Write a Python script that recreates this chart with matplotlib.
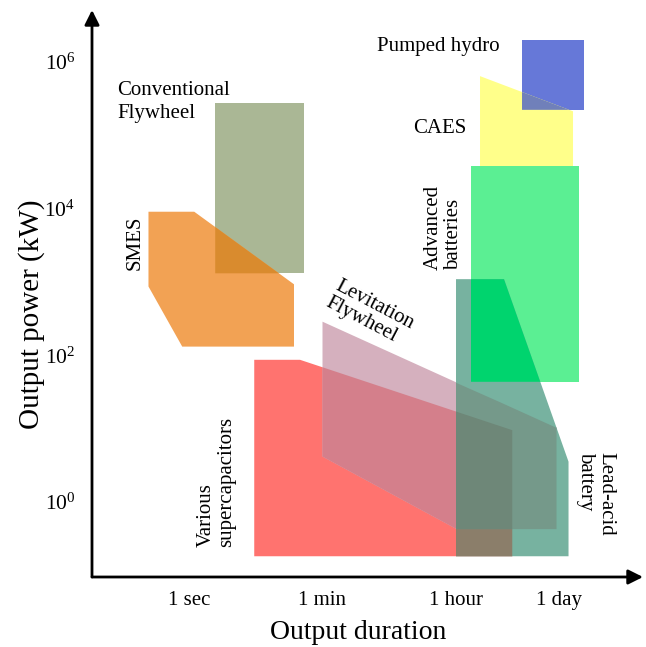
import numpy as np
import matplotlib
matplotlib.use("Agg")
import matplotlib.pyplot as plt
from matplotlib.patches import Polygon

plt.rcParams['font.family'] = ['Liberation Serif', 'DejaVu Serif']
plt.rcParams['mathtext.fontset'] = 'custom'
plt.rcParams['mathtext.rm'] = 'Liberation Serif'

# axes are in decades: x = log10(seconds), y = log10(kW)
x_ticks = [0, np.log10(60), np.log10(3600), np.log10(86400)]
x_tick_labels = ['1 sec', '1 min', '1 hour', '1 day']
y_ticks = [0, 2, 4, 6]
y_tick_labels = [r'$\mathregular{10^{%d}}$' % v for v in y_ticks]

# technology regions (polygon outlines)
phs_x = [4.44, 5.26, 5.26, 4.44]
phs_y = [6.30, 6.30, 5.35, 5.35]
caes_x = [3.88, 5.12, 5.12, 3.88]
caes_y = [5.81, 5.33, 4.58, 4.58]
adv_x = [3.76, 5.20, 5.20, 3.76]
adv_y = [4.58, 4.58, 1.64, 1.64]
flyc_x = [0.35, 1.53, 1.53, 0.35]
flyc_y = [5.44, 5.44, 3.12, 3.12]
smes_x = [-0.54, 0.07, 1.40, 1.40, -0.09, -0.54]
smes_y = [3.96, 3.96, 2.97, 2.12, 2.12, 2.94]
supc_x = [0.87, 1.48, 4.31, 4.31, 0.87]
supc_y = [1.94, 1.94, 0.98, -0.74, -0.74]
flyl_x = [1.78, 4.15, 4.90, 4.90, 3.57, 1.78]
flyl_y = [2.46, 1.36, 1.02, -0.37, -0.37, 0.62]
lead_x = [3.56, 4.20, 5.06, 5.06, 3.56]
lead_y = [3.04, 3.04, 0.55, -0.74, -0.74]


def area(poly):
    x = np.array([p[0] for p in poly])
    y = np.array([p[1] for p in poly])
    return 0.5 * np.sum(x * np.roll(y, -1) - np.roll(x, -1) * y)


def clip(subj, clipper):
    # Sutherland-Hodgman, clipper must be convex
    s = np.sign(area(clipper))
    out = list(subj)
    n = len(clipper)
    for i in range(n):
        a, b = clipper[i], clipper[(i + 1) % n]

        def inside(p):
            return s * ((b[0] - a[0]) * (p[1] - a[1]) - (b[1] - a[1]) * (p[0] - a[0])) >= 0

        def cross(p, q):
            dx1, dy1 = q[0] - p[0], q[1] - p[1]
            dx2, dy2 = b[0] - a[0], b[1] - a[1]
            t = ((a[0] - p[0]) * dy2 - (a[1] - p[1]) * dx2) / (dx1 * dy2 - dy1 * dx2)
            return (p[0] + t * dx1, p[1] + t * dy1)

        inp = out
        out = []
        for j in range(len(inp)):
            p, q = inp[j - 1], inp[j]
            if inside(q):
                if not inside(p):
                    out.append(cross(p, q))
                out.append(q)
            elif inside(p):
                out.append(cross(p, q))
        if not out:
            break
    return out


P = lambda xs, ys: list(zip(xs, ys))
phs = P(phs_x, phs_y)
caes = P(caes_x, caes_y)
adv = P(adv_x, adv_y)
flyc = P(flyc_x, flyc_y)
smes = P(smes_x, smes_y)
supc = P(supc_x, supc_y)
flyl = P(flyl_x, flyl_y)
lead = P(lead_x, lead_y)

fig = plt.figure(figsize=(6.46, 6.47), dpi=100)
ax = fig.add_axes([92 / 646, 70 / 647, 551 / 646, 567 / 647])
ax.set_xlim(-1.293, 6.053)
ax.set_ylim(-1.023, 6.712)

regions = [
    (phs, '#6678D8'), (caes, '#FFFF8A'), (adv, '#5BEF93'),
    (flyc, '#AAB795'), (smes, '#F2A254'), (supc, '#FF736F'),
    (flyl, '#D5B0BE'), (lead, '#77B2A0'),
]
for poly, col in regions:
    ax.add_patch(Polygon(poly, closed=True, facecolor=col, edgecolor='none'))

overlaps = [
    (clip(smes, flyc), '#D98B2E'),
    (clip(caes, phs), '#7080BA'),
    (clip(adv, lead), '#00D46E'),
    (clip(flyl, supc), '#D47F8B'),
    (clip(lead, supc), '#8B7E6A'),
    (clip(lead, flyl), '#75998A'),
    (clip(clip(lead, flyl), supc), '#6E8778'),
]
for poly, col in overlaps:
    if len(poly) > 2:
        ax.add_patch(Polygon(poly, closed=True, facecolor=col, edgecolor='none'))

fs = 15
ax.text(2.51, 6.22, 'Pumped hydro', fontsize=fs, ha='left', va='center')
ax.text(2.99, 5.10, 'CAES', fontsize=fs, ha='left', va='center')
ax.text(-0.96, 5.46, 'Conventional\nFlywheel', fontsize=fs, ha='left', va='center',
        linespacing=1.3)
ax.text(-0.72, 3.53, 'SMES', fontsize=fs, ha='center', va='center', rotation=90)
ax.text(3.39, 3.17, 'Advanced\nbatteries', fontsize=fs, ha='center', va='bottom',
        rotation=90, multialignment='left', linespacing=1.1)
ax.text(0.37, -0.61, 'Various\nsupercapacitors', fontsize=fs, ha='center', va='bottom',
        rotation=90, multialignment='left', linespacing=1.1)
ax.text(5.42, 0.68, 'Lead-acid\nbattery', fontsize=fs, ha='center', va='top',
        rotation=-90, multialignment='left', linespacing=1.1)
ax.text(2.41, 2.57, 'Levitation\nFlywheel', fontsize=fs, ha='center', va='center',
        rotation=-27.7, rotation_mode='anchor', multialignment='left', linespacing=1.0)

for s in ax.spines.values():
    s.set_visible(False)
ax.annotate('', xy=(1, 0), xytext=(0, 0), xycoords='axes fraction',
            arrowprops=dict(arrowstyle='-|>', lw=2, color='black', mutation_scale=22,
                            shrinkA=0, shrinkB=0))
ax.annotate('', xy=(0, 1), xytext=(0, 0), xycoords='axes fraction',
            arrowprops=dict(arrowstyle='-|>', lw=2, color='black', mutation_scale=22,
                            shrinkA=0, shrinkB=0))

ax.set_xticks(x_ticks)
ax.set_xticklabels(x_tick_labels, fontsize=fs)
ax.set_yticks(y_ticks)
ax.set_yticklabels(y_tick_labels, fontsize=15.5)
ax.tick_params(axis='both', length=0)
ax.tick_params(axis='x', pad=10)
ax.tick_params(axis='y', pad=12)

ax.set_xlabel('Output duration', fontsize=20, va='center')
ax.xaxis.set_label_coords(0.484, -0.098)
ax.set_ylabel('Output power (kW)', fontsize=21, va='center')
ax.yaxis.set_label_coords(-0.11, 0.464)

fig.savefig('out.png', dpi=100)
